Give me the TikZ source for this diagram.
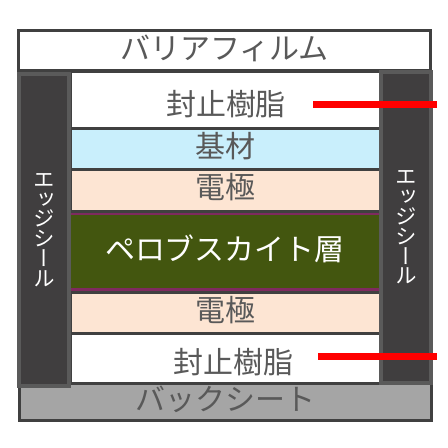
\documentclass[tikz,border=0pt]{standalone}
\usepackage{fontspec}
\setmainfont{Noto Sans CJK JP}
\newfontfamily\vertjp[RawFeature=+vert]{Noto Sans CJK JP}
\usepackage{tikz}
\usetikzlibrary{positioning}

\definecolor{lineC}{HTML}{404040}
\definecolor{textC}{HTML}{595959}
\definecolor{sealC}{HTML}{403E3F}
\definecolor{sealEdge}{HTML}{5A5A5A}
\definecolor{substrateC}{HTML}{C9EFFC}
\definecolor{electrodeC}{HTML}{FDE5D3}
\definecolor{perovC}{HTML}{43560F}
\definecolor{perovEdge}{HTML}{7F2A5F}
\definecolor{backC}{HTML}{A5A5A5}

\begin{document}
\begin{tikzpicture}[
        x=1pt, y=-1pt,
        layer/.style={
            rectangle, draw=lineC, line width=3pt, fill=#1,
            minimum width=310pt, inner sep=0pt, outer sep=0pt,
            text height=26pt, text depth=9.5pt,
            text=textC, font=\fontsize{30}{31}\selectfont
        },
        layer/.default=white,
        sheet/.style={
            rectangle, draw=lineC, line width=3pt, fill=#1,
            minimum width=412pt, inner sep=0pt, outer sep=0pt,
            text height=26pt, text depth=7.5pt,
            text=textC, font=\fontsize{30}{31}\selectfont
        },
        sheet/.default=white,
        seal/.style={
            rectangle, draw=sealEdge, line width=4pt, fill=sealC,
            minimum width=50pt, inner sep=0pt, outer sep=0pt,
            text=white, align=center, font=\vertjp\fontsize{21.5}{19.8}\selectfont
        },
        redline/.style={draw=red, line width=7pt},
    ]
    \useasboundingbox (0,0) rectangle (448,448);

    % -- back sheet (under the seals) --
    \node[sheet=backC, minimum height=37pt] (back) at (225.75,401.5) {バックシート};

    % -- barrier film --
    \node[sheet, minimum height=40.5pt] (barrier) at (224.5,50.25) {バリアフィルム};

    % -- layer stack --
    \node[layer, minimum height=57pt,
        label={[xshift=1pt, yshift=-4.5pt, text=textC, font=\fontsize{30}{31}\selectfont]center:封止樹脂}]
        (resintop) at (225,99.5) {};
    \node[layer=substrateC, minimum height=41.5pt, below=0pt of resintop] (substrate) {基材};
    \node[layer=electrodeC, minimum height=42pt, below=0pt of substrate] (electrodetop) {電極};
    \node[layer=perovC, draw=perovEdge, line width=2.5pt, minimum height=75.5pt,
        text=white, below=2.5pt of electrodetop] (perov) {ペロブスカイト層};
    \node[layer=electrodeC, minimum height=41.5pt, below=2.5pt of perov] (electrodebot) {電極};
    \node[layer, minimum height=49.5pt, below=0pt of electrodebot,
        label={[xshift=8pt, yshift=-4pt, text=textC, font=\fontsize{30}{31}\selectfont]center:封止樹脂}]
        (resinbot) {};

    % -- edge seals --
    \node[seal, minimum height=312pt] (sealleft) at (44,230) {エ\\ッ\\ジ\\シ\\ー\\ル};
    \node[seal, minimum height=311pt] (sealright) at (406,227.5) {エ\\ッ\\ジ\\シ\\ー\\ル};

    % -- red marks --
    \coordinate (marktopa) at (313,104);
    \coordinate (marktopb) at (437,104);
    \coordinate (markbota) at (318,356);
    \coordinate (markbotb) at (437,356);
    \draw[redline] (marktopa) -- (marktopb);
    \draw[redline] (markbota) -- (markbotb);

\end{tikzpicture}
\end{document}
